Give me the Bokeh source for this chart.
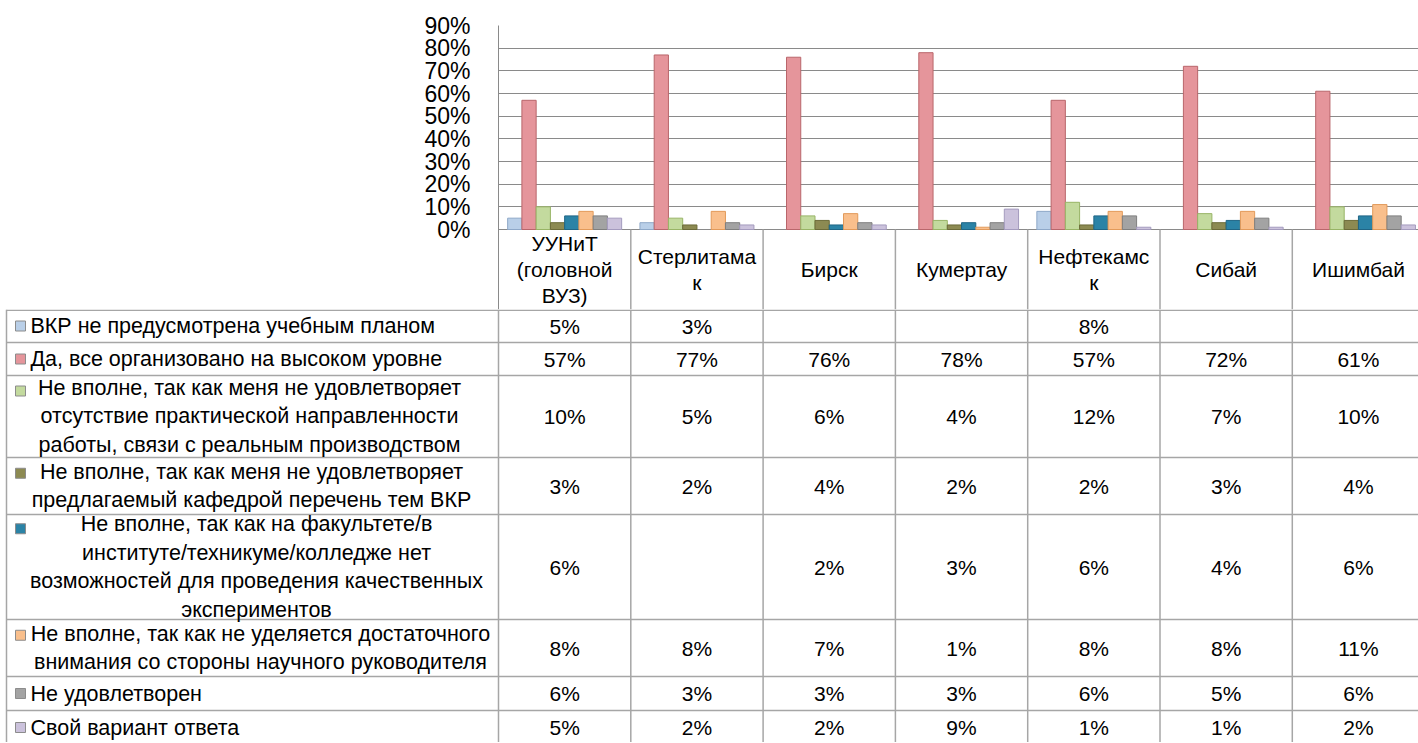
from bokeh.plotting import figure
from bokeh.layouts import column
from bokeh.models import Range1d, FixedTicker, NumeralTickFormatter, ColumnDataSource
from bokeh.core.properties import value
from bokeh.embed import file_html
from bokeh.resources import INLINE

# ---------------- data ----------------
cities = ["УУНиТ\n(головной\nВУЗ)", "Стерлитама\nк", "Бирск", "Кумертау",
          "Нефтекамс\nк", "Сибай", "Ишимбай"]

series_labels = [
    "ВКР не предусмотрена учебным планом",
    "Да, все организовано на высоком уровне",
    "Не вполне, так как меня не удовлетворяет\nотсутствие практической направленности\nработы, связи с реальным производством",
    "Не вполне, так как меня не удовлетворяет\nпредлагаемый кафедрой перечень тем ВКР",
    "Не вполне, так как на факультете/в\nинституте/техникуме/колледже нет\nвозможностей для проведения качественных\nэкспериментов",
    "Не вполне, так как не уделяется достаточного\nвнимания со стороны научного руководителя",
    "Не удовлетворен",
    "Свой вариант ответа",
]

s_not_planned = [5, 3, None, None, 8, None, None]
s_high_level = [57, 77, 76, 78, 57, 72, 61]
s_no_practice = [10, 5, 6, 4, 12, 7, 10]
s_topics = [3, 2, 4, 2, 2, 3, 4]
s_no_facilities = [6, None, 2, 3, 6, 4, 6]
s_supervisor = [8, 8, 7, 1, 8, 8, 11]
s_unsatisfied = [6, 3, 3, 3, 6, 5, 6]
s_other = [5, 2, 2, 9, 1, 1, 2]

y_ticks = [0, 10, 20, 30, 40, 50, 60, 70, 80, 90]

series_values = [s_not_planned, s_high_level, s_no_practice, s_topics,
                 s_no_facilities, s_supervisor, s_unsatisfied, s_other]

# ---------------- styles ----------------
fill_colors = ["#B9CFE8", "#E5959B", "#C3DA9E", "#8C8A52",
               "#2B83A6", "#F9BF8C", "#A3A3A3", "#CBC2DC"]
line_colors = ["#8EA8C8", "#B9666B", "#98B466", "#6B6A38",
               "#1F6585", "#E29A5A", "#7F7F7F", "#A49BBE"]
FONT = value("Liberation Sans")
GRID = "#8A8A8A"
BORDER = "#A6A6A6"

# ---------------- layout constants (pixels) ----------------
PAGE_W = 1418
LEFT = 498            # plot area starts at page x = 498
COL = 132.3           # width of one category column
PLOT_W = PAGE_W - LEFT
N_VIS = PLOT_W / COL
TOP = 25
PPU = 226.67          # pixels per 100 %
HEADER = 80
FIG1_H = TOP + int(round(0.9 * PPU)) + HEADER   # 309
FIG2_H = 742 - FIG1_H
ROW_H = [33, 33, 82, 57, 105, 57, 34, 34]
LINE_PX = 25.5
BW = 14.25 / COL
n_cat = len(cities)
n_ser = len(series_values)


def px2x(page_x):
    return (page_x - LEFT) / COL


# ---------------- chart with header row ----------------
p = figure(width=PAGE_W, height=FIG1_H, output_backend="svg", toolbar_location=None,
           x_range=Range1d(0, N_VIS), y_range=Range1d(-HEADER / PPU, 0.9),
           x_axis_location=None, min_border_left=LEFT, min_border_right=0,
           min_border_top=TOP, min_border_bottom=0)
p.outline_line_color = None
p.background_fill_color = "white"
p.border_fill_color = "white"
p.xgrid.visible = False
p.yaxis.ticker = FixedTicker(ticks=[t / 100 for t in y_ticks])
p.yaxis.formatter = NumeralTickFormatter(format="0%")
p.yaxis.major_label_text_font = "Liberation Sans"
p.yaxis.major_label_text_font_size = "23px"
p.yaxis.major_label_text_color = "black"
p.yaxis.major_tick_line_color = None
p.yaxis.minor_tick_line_color = None
p.yaxis.major_label_standoff = 22
p.yaxis.axis_line_color = GRID
p.ygrid.grid_line_color = GRID
p.ygrid.grid_line_width = 1

for k, vals in enumerate(series_values):
    xs = [i + 0.5 + (k - (n_ser - 1) / 2) * BW for i, v in enumerate(vals) if v is not None]
    tops = [v / 100 for v in vals if v is not None]
    src = ColumnDataSource(dict(x=xs, top=tops))
    p.vbar(x="x", top="top", bottom=0, width=BW, source=src,
           fill_color=fill_colors[k], line_color=line_colors[k], line_width=1)

# header separators and labels
p.segment(x0=list(range(1, n_cat)), y0=[-HEADER / PPU] * (n_cat - 1),
          x1=list(range(1, n_cat)), y1=[0] * (n_cat - 1),
          line_color=BORDER, line_width=1.5)
p.text(x=[i + 0.5 for i in range(n_cat)], y=[-HEADER / 2 / PPU] * n_cat, text=cities,
       text_align="center", text_baseline="middle", text_font=FONT,
       text_font_size="21px", text_color="black", text_line_height=1.14)

# ---------------- data table ----------------
t = figure(width=PAGE_W, height=FIG2_H, output_backend="svg", toolbar_location=None,
           x_range=Range1d(px2x(0), N_VIS), y_range=Range1d(FIG2_H, 0),
           x_axis_location=None, y_axis_location=None, min_border=0)
t.outline_line_color = None
t.grid.visible = False
t.background_fill_color = "white"
t.border_fill_color = "white"

for fig in (p, t):
    try:
        fig.frame_align = False
    except Exception:
        pass

bounds = [0]
for h in ROW_H:
    bounds.append(bounds[-1] + h)
centers = [bounds[i] + ROW_H[i] / 2 for i in range(len(ROW_H))]

hy = [max(b, 0.75) for b in bounds[:-1]]
t.segment(x0=[px2x(6)] * len(hy), y0=hy, x1=[N_VIS] * len(hy), y1=hy,
          line_color=BORDER, line_width=1.5)
vx = [px2x(6)] + list(range(0, n_cat))
t.segment(x0=vx, y0=[0] * len(vx), x1=vx, y1=[FIG2_H] * len(vx),
          line_color=BORDER, line_width=1.5)

# values
cx, cy, ct = [], [], []
for k, vals in enumerate(series_values):
    for i, v in enumerate(vals):
        if v is not None:
            cx.append(i + 0.5)
            cy.append(centers[k])
            ct.append(f"{v}%")
t.text(x=cx, y=cy, text=ct, text_align="center", text_baseline="middle",
       text_font=FONT, text_font_size="21px", text_color="black")

# legend keys and series labels
ml_center_px = {2: 249, 3: 251, 4: 256, 5: 260}
for k, lab in enumerate(series_labels):
    n_lines = lab.count("\n") + 1
    first_y = centers[k] - (n_lines - 1) / 2 * LINE_PX
    t.scatter(x=[px2x(20)], y=[first_y], marker="square", size=10,
              fill_color=fill_colors[k], line_color="#8C8C8C", line_width=1)
    if n_lines == 1:
        t.text(x=[px2x(30)], y=[centers[k]], text=[lab], text_align="left",
               text_baseline="middle", text_font=FONT, text_font_size="21.5px",
               text_color="black")
    else:
        t.text(x=[px2x(ml_center_px[k])], y=[centers[k]], text=[lab], text_align="center",
               text_baseline="middle", text_font=FONT, text_font_size="21.5px",
               text_color="black", text_line_height=1.19)

layout = column(p, t, spacing=0)
open("out.html", "w").write(file_html(layout, INLINE))
